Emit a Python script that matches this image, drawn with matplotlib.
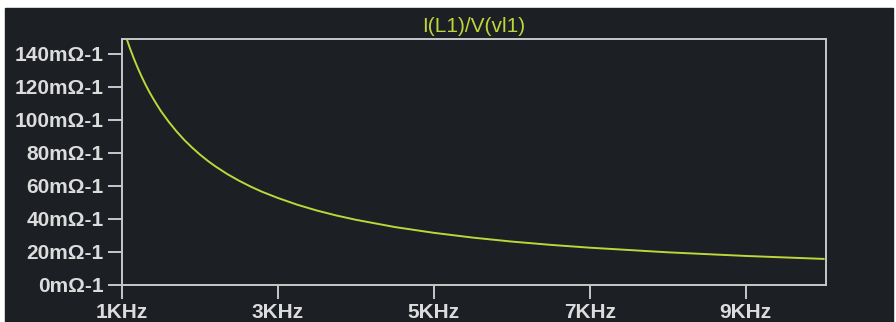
import matplotlib
matplotlib.use("Agg")
import matplotlib.pyplot as plt
from matplotlib.patches import Rectangle

freq_khz = [1.0, 1.05, 1.1, 1.15, 1.2, 1.25, 1.3, 1.35, 1.4, 1.45, 1.5, 1.6,
            1.7, 1.8, 1.9, 2.0, 2.1, 2.2, 2.35, 2.5, 2.65, 2.8, 3.0, 3.25,
            3.5, 3.75, 4.0, 4.5, 5.0, 5.5, 6.0, 6.5, 7.0, 8.0, 9.0, 10.0]
admittance = [158, 150.5, 143.6, 137.4, 131.7, 126.4, 121.5, 117, 112.9, 109,
              105.3, 98.8, 93, 87.8, 83.2, 79, 75.2, 71.8, 67.2, 63.2, 59.6,
              56.4, 52.7, 48.6, 45.1, 42.1, 39.5, 35.1, 31.6, 28.7, 26.3,
              24.3, 22.6, 19.8, 17.6, 15.8]
y_ticks = [0, 20, 40, 60, 80, 100, 120, 140]
x_ticks = [1, 3, 5, 7, 9]
title = "I(L1)/V(vl1)"

bg = "#1c1f24"
fg = "#dcdcdc"
trace = "#bfd63a"
font = ["Liberation Sans Narrow", "Liberation Sans", "DejaVu Sans"]

fig = plt.figure(figsize=(8.96, 3.22), dpi=100, facecolor="white")
# dark panel of the screenshot
fig.patches.append(Rectangle((5 / 896, 0), 888 / 896, 314 / 322,
                             transform=fig.transFigure, color=bg, zorder=-1))

ax = fig.add_axes([122 / 896, 37 / 322, 704 / 896, 246 / 322])
ax.set_facecolor(bg)
ax.plot(freq_khz, admittance, color=trace, lw=1.4)

ax.set_xlim(1, 10.03)
ax.set_ylim(0, 149)
ax.set_xticks(x_ticks)
ax.set_xticklabels([f"{v}KHz" for v in x_ticks])
ax.set_yticks(y_ticks)
ax.set_yticklabels([f"{v}m\u03a9-1" for v in y_ticks])

for s in ax.spines.values():
    s.set_color("#c8c8c8")
    s.set_linewidth(1.4)
ax.tick_params(colors="#c8c8c8", width=1.4, length=10, pad=3)
for lab in ax.get_xticklabels() + ax.get_yticklabels():
    lab.set_color(fg)
    lab.set_fontfamily(font)
    lab.set_fontweight("bold")
    lab.set_fontsize(15)

ax.set_title(title, color=trace, fontsize=15, pad=5, family=font)

fig.savefig("out.png", dpi=100, facecolor="white")
